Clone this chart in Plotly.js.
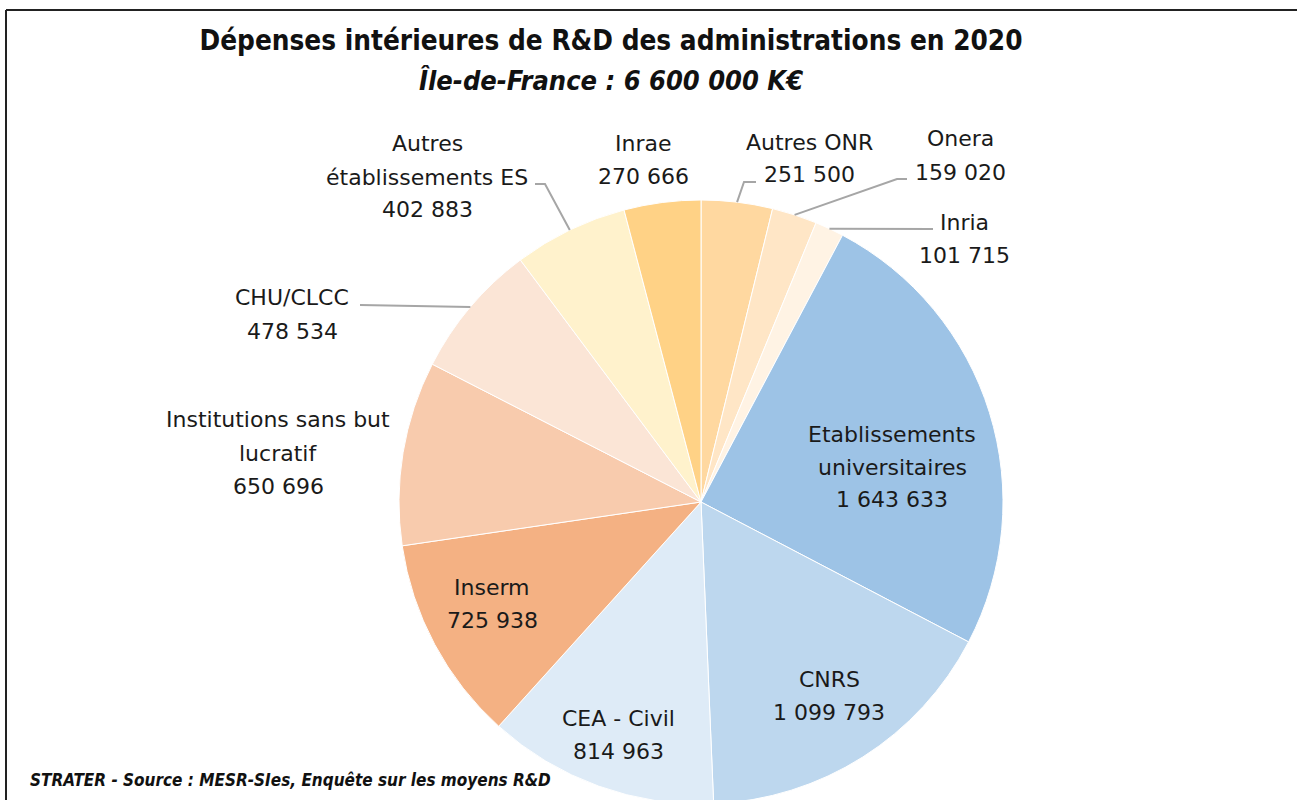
<!DOCTYPE html>
<html>
<head>
<meta charset="utf-8">
<script src="https://cdn.plot.ly/plotly-3.0.1.min.js"></script>
<style>
  html, body { margin: 0; padding: 0; overflow: hidden; background: #fff; }
  #chart { width: 1297px; height: 804px; }
</style>
</head>
<body>
<div id="chart"></div>
<script>
// slices, clockwise from 12 o'clock
var categories = ['Autres ONR', 'Onera', 'Inria', 'Etablissements universitaires', 'CNRS',
    'CEA - Civil', 'Inserm', 'Institutions sans but lucratif', 'CHU/CLCC',
    'Autres établissements ES', 'Inrae'];
var values = [251500, 159020, 101715, 1643633, 1099793, 814963, 725938, 650696, 478534, 402883, 270666];
var labelLines = [['Autres ONR'], ['Onera'], ['Inria'], ['Etablissements', 'universitaires'], ['CNRS'],
    ['CEA - Civil'], ['Inserm'], ['Institutions sans but', 'lucratif'], ['CHU/CLCC'],
    ['Autres', 'établissements ES'], ['Inrae']];
var colors = ['#FFD8A0', '#FFE6C6', '#FFF3E4', '#9DC3E6', '#BDD7EE', '#DEEBF7',
    '#F4B183', '#F8CBAD', '#FBE5D6', '#FFF2CC', '#FFD286'];

var title1 = 'Dépenses intérieures de R&D des administrations en 2020';
var title2 = 'Île-de-France : 6 600 000 K€';
var footer = 'STRATER - Source : MESR-SIes, Enquête sur les moyens R&D';

var W = 1297, H = 804;
var cx = 701, cy = 502, R = 302;
var lineGap = 33;

// where each label's first line sits (px)
var labelPos = [[809, 142], [960, 139], [964, 222], [892, 434], [829, 679],
    [618, 718], [492, 587], [278, 420], [292, 298], [427, 144], [643, 143]];
// leader lines: points after the slice edge, null = label inside
var leaders = [[[744, 182], [756, 182]], [[897, 179], [907, 179]], [[933, 229]], null, null,
    null, null, null, [[360, 305]], [[545, 184], [535, 184]], null];

function px(x) { return x / W; }
function py(y) { return 1 - y / H; }
function fmt(v) { return String(v).replace(/\B(?=(\d{3})+(?!\d))/g, ' '); }

var total = 0;
for (var i = 0; i < values.length; i++) total += values[i];

var annotations = [];
var shapes = [];
var cum = 0;
for (var i = 0; i < values.length; i++) {
    var mid = (cum + values[i] / 2) / total * 2 * Math.PI;
    cum = cum + values[i];
    var lines = labelLines[i].concat([fmt(values[i])]);
    for (var j = 0; j < lines.length; j++) {
        annotations.push({
            xref: 'paper', yref: 'paper',
            x: px(labelPos[i][0]), y: py(labelPos[i][1] + j * lineGap),
            xanchor: 'center', yanchor: 'middle',
            text: lines[j], showarrow: false,
            font: {family: 'DejaVu Sans, sans-serif', size: 22, color: '#1a1a1a'}
        });
    }
    if (leaders[i]) {
        var tx = cx + R * Math.sin(mid), ty = cy - R * Math.cos(mid);
        var d = 'M' + px(tx) + ',' + py(ty);
        for (var k = 0; k < leaders[i].length; k++) {
            d += ' L' + px(leaders[i][k][0]) + ',' + py(leaders[i][k][1]);
        }
        shapes.push({type: 'path', xref: 'paper', yref: 'paper', path: d,
            line: {color: '#a6a6a6', width: 2}});
    }
}

// frame lines top and left
shapes.push({type: 'line', xref: 'paper', yref: 'paper', x0: px(6), y0: py(10), x1: 1, y1: py(10),
    line: {color: '#222', width: 2}});
shapes.push({type: 'line', xref: 'paper', yref: 'paper', x0: px(6), y0: py(10), x1: px(6), y1: 0,
    line: {color: '#222', width: 2}});

annotations.push({
    xref: 'paper', yref: 'paper', x: px(611), y: py(80), xanchor: 'center', yanchor: 'middle',
    text: '<b><i>' + title2 + '</i></b>', showarrow: false,
    font: {family: 'Liberation Sans Narrow, DejaVu Sans Condensed, sans-serif', size: 27, color: '#111'}
});
annotations.push({
    xref: 'paper', yref: 'paper', x: px(28), y: py(780), xanchor: 'left', yanchor: 'middle',
    text: '<b><i>' + footer + '</i></b>', showarrow: false,
    font: {family: 'Liberation Sans Narrow, DejaVu Sans Condensed, sans-serif', size: 17, color: '#111'}
});

var data = [{
    type: 'pie',
    labels: categories,
    values: values,
    sort: false,
    direction: 'clockwise',
    rotation: 0,
    textinfo: 'none',
    hoverinfo: 'label+value',
    marker: {colors: colors, line: {color: '#ffffff', width: 1}},
    domain: {x: [px(cx - R), px(cx + R)], y: [py(cy + R), py(cy - R)]}
}];

var layout = {
    width: W,
    height: H,
    margin: {l: 0, r: 0, t: 0, b: 0},
    showlegend: false,
    paper_bgcolor: '#ffffff',
    title: {
        text: '<b>' + title1 + '</b>',
        x: px(611), xanchor: 'center', xref: 'paper',
        y: py(40), yanchor: 'middle', yref: 'paper',
        font: {family: 'Liberation Sans Narrow, DejaVu Sans Condensed, sans-serif', size: 27.7, color: '#111'}
    },
    annotations: annotations,
    shapes: shapes
};

Plotly.newPlot('chart', data, layout, {displayModeBar: false, staticPlot: true});
</script>
</body>
</html>
